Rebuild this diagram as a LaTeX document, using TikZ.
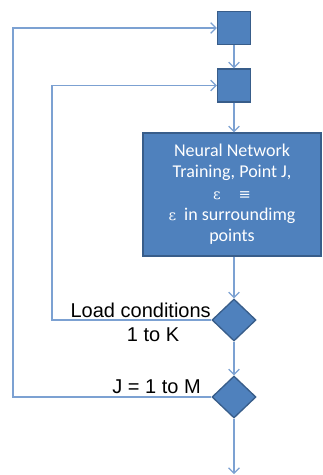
\documentclass[tikz,border=0pt]{standalone}
\usepackage{fontspec}
\setmainfont{Liberation Sans}
\newfontfamily\boxfont{Carlito}
\newfontfamily\greekfont{DejaVu Serif}
\usepackage{tikz}
\usetikzlibrary{shapes.geometric,arrows.meta}

\definecolor{boxblue}{RGB}{79,129,189}
\definecolor{boxedge}{RGB}{56,93,138}
\definecolor{flowline}{RGB}{124,161,210}

\tikzset{
  block/.style={draw=boxedge, line width=1pt, fill=boxblue, inner sep=0pt},
  loopbox/.style={block, minimum size=24.75pt},
  decision/.style={block, diamond, minimum width=33pt, minimum height=31.5pt},
  flow/.style={draw=flowline, line width=0.9pt, -{Straight Barb[length=4pt,width=8pt]}},
  looplabel/.style={font=\fontsize{15}{18}\selectfont, inner sep=0pt}
}
\newcommand{\eps}{{\greekfont\fontsize{11}{16}\selectfont ε}}
\newcommand{\same}{{\greekfont\fontsize{11}{16}\selectfont ≡}}

\begin{document}
\begin{tikzpicture}[x=0.75pt,y=-0.75pt]
        \useasboundingbox (0,0) rectangle (323,475);

        \node [loopbox] (top) at (234,28) {};
        \node [loopbox] (load) at (234,85.5) {};
        \node [block, minimum width=133.5pt, minimum height=92.25pt, text=white, align=center,
               font=\boxfont\fontsize{13.5}{16}\selectfont] (train) at (232,194.5)
              {Neural Network\\Training, Point J,\\\eps\quad\same\\\eps\ \ in surroundimg\\points};
        \node [decision] (dk) at (234,320) {};
        \node [decision] (dm) at (234,397) {};
        \coordinate (end) at (234,474);
        \coordinate (kback) at (52,200);
        \coordinate (mback) at (13,200);

        \draw [flow] (top) -- (load);
        \draw [flow] (load.south) -- (load.south |- train.north);
        \draw [flow] (train.south -| dk) -- (dk);
        \draw [flow] (dk) -- (dm);
        \draw [flow] (dm) -- (end);

        \draw [flow] (dk.west) -| (kback) |- (load.west);
        \draw [flow] (dm.west) -| (mback) |- (top.west);

        \node [looplabel, anchor=base east] (kname) at (211,317) {Load conditions};
        \node [looplabel, anchor=base] (krange) at (153,341) {1 to K};
        \node [looplabel, anchor=base east] (mrange) at (201,393) {J = 1 to M};
    \end{tikzpicture}
\end{document}
